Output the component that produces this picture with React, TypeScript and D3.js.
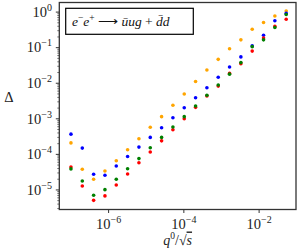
import React, { useEffect, useRef } from 'react';
import * as d3 from 'd3';

// photon energy fraction q0/sqrt(s)
const xValues = [1e-7, 2e-7, 4e-7, 8e-7, 1.6e-6, 3.2e-6, 6.4e-6, 1.28e-5, 2.56e-5, 5.12e-5,
  1.024e-4, 2.048e-4, 4.096e-4, 8.192e-4, 1.6384e-3, 3.2768e-3, 6.5536e-3, 1.31072e-2, 2.62144e-2, 5.24288e-2];

const orangeValues = [2.1e-4, 3.8e-5, 2.0e-5, 3.4e-5, 6.6e-5, 1.35e-4, 2.75e-4, 5.8e-4, 1.15e-3, 2.4e-3,
  5.0e-3, 1.12e-2, 2.35e-2, 4.7e-2, 9.3e-2, 0.166, 0.33, 0.51, 0.78, 1.07];
const blueValues = [3.7e-4, 1.5e-4, 2.75e-5, 2.6e-5, 4.7e-5, 8.7e-5, 1.6e-4, 3.0e-4, 5.6e-4, 1.07e-3,
  2.05e-3, 3.9e-3, 7.5e-3, 1.47e-2, 2.85e-2, 5.5e-2, 0.112, 0.224, 0.57, 0.93];
const redValues = [4.4e-5, 1.29e-5, 5.1e-6, 6.8e-6, 1.38e-5, 2.8e-5, 5.8e-5, 1.17e-4, 2.4e-4, 4.9e-4,
  1.0e-3, 2.1e-3, 4.4e-3, 8.3e-3, 1.9e-2, 3.55e-2, 0.08, 0.186, 0.4, 0.63];
const greenValues = [3.9e-5, 1.78e-5, 7.1e-6, 1.02e-5, 2.0e-5, 3.95e-5, 7.6e-5, 1.54e-4, 3.0e-4, 5.9e-4,
  1.15e-3, 2.3e-3, 4.6e-3, 8.9e-3, 1.8e-2, 3.8e-2, 0.107, 0.166, 0.37, 0.86];

const xTickExps = [-6, -4, -2];
const yTickExps = [0, -1, -2, -3, -4, -5];

const series = [
  { color: 'orange', values: orangeValues },
  { color: 'blue', values: blueValues },
  { color: 'red', values: redValues },
  { color: 'green', values: greenValues },
];

const FONT = "'Liberation Serif', serif";

const App: React.FC = () => {
  const ref = useRef<SVGSVGElement>(null);

  useEffect(() => {
    if (!ref.current) return;
    const svg = d3.select(ref.current);
    svg.selectAll('*').remove();

    const left = 59.3, right = 296, top = 2.5, bottom = 209.5;

    const x = d3.scaleLog().domain([Math.pow(10, -7.31), Math.pow(10, -1.02)]).range([left, right]);
    const y = d3.scaleLog().domain([Math.pow(10, -5.55), Math.pow(10, 0.27)]).range([bottom, top]);

    // y ticks (major + minor)
    const yMinor: number[] = [];
    for (let e = -6; e <= 0; e++) {
      for (let m = 2; m <= 9; m++) {
        const v = m * Math.pow(10, e);
        if (v >= y.domain()[0] && v <= y.domain()[1]) yMinor.push(v);
      }
    }
    const ticks = svg.append('g').attr('stroke', '#333');
    ticks.selectAll('.ymin').data(yMinor).enter().append('line')
      .attr('x1', left - 2).attr('x2', left)
      .attr('y1', d => y(d)).attr('y2', d => y(d))
      .attr('stroke-width', 0.7);
    ticks.selectAll('.ymaj').data(yTickExps).enter().append('line')
      .attr('x1', left - 3.5).attr('x2', left)
      .attr('y1', d => y(Math.pow(10, d))).attr('y2', d => y(Math.pow(10, d)))
      .attr('stroke-width', 1);
    ticks.selectAll('.xmaj').data(xTickExps).enter().append('line')
      .attr('y1', bottom).attr('y2', bottom + 3.5)
      .attr('x1', d => x(Math.pow(10, d))).attr('x2', d => x(Math.pow(10, d)))
      .attr('stroke-width', 1);

    // tick labels
    const yl = svg.append('g').style('font-family', FONT).attr('fill', '#222');
    yTickExps.forEach(e => {
      const t = yl.append('text')
        .attr('x', 52).attr('y', y(Math.pow(10, e)) + 4.8)
        .attr('text-anchor', 'end').attr('font-size', 14.5);
      t.append('tspan').text('10');
      t.append('tspan').attr('dy', -6).attr('font-size', 10).text(e === 0 ? '0' : '\u2212' + (-e));
    });
    xTickExps.forEach(e => {
      const t = yl.append('text')
        .attr('x', x(Math.pow(10, e))).attr('y', 229)
        .attr('text-anchor', 'middle').attr('font-size', 14.5);
      t.append('tspan').text('10');
      t.append('tspan').attr('dy', -6).attr('font-size', 10).text('\u2212' + (-e));
    });

    // axis labels
    svg.append('text').attr('x', 9).attr('y', 101.5).attr('text-anchor', 'middle')
      .style('font-family', FONT).attr('font-size', 14.5).attr('fill', '#222').text('\u0394');
    const xl = svg.append('text').attr('x', (left + right) / 2).attr('y', 244.5)
      .attr('text-anchor', 'middle').style('font-family', FONT).attr('font-size', 14).attr('fill', '#222');
    xl.append('tspan').attr('font-style', 'italic').text('q');
    xl.append('tspan').attr('dy', -5.5).attr('font-size', 9.5).text('0');
    xl.append('tspan').attr('dy', 5.5).text('/\u221A');
    xl.append('tspan').attr('font-style', 'italic').attr('text-decoration', 'overline').text('s');

    // points
    series.forEach(s => {
      svg.append('g').selectAll('circle').data(s.values).enter().append('circle')
        .attr('cx', (_, i) => x(xValues[i]))
        .attr('cy', d => y(d))
        .attr('r', 1.8)
        .attr('fill', s.color);
    });

    // frame
    svg.append('rect').attr('x', left).attr('y', top)
      .attr('width', right - left).attr('height', bottom - top)
      .attr('fill', 'none').attr('stroke', '#333').attr('stroke-width', 1.3);

    // process label box
    svg.append('rect').attr('x', 65.7).attr('y', 8.3).attr('width', 127.6).attr('height', 26)
      .attr('fill', 'white').attr('stroke', 'black').attr('stroke-width', 1.2);
    const lt = svg.append('text').attr('x', 72).attr('y', 26)
      .style('font-family', FONT).attr('font-size', 13.5).attr('fill', '#111');
    lt.append('tspan').attr('font-style', 'italic').text('e');
    lt.append('tspan').attr('dy', -5).attr('font-size', 9.5).text('\u2212');
    lt.append('tspan').attr('dy', 5).attr('font-style', 'italic').text('e');
    lt.append('tspan').attr('dy', -5).attr('font-size', 9.5).text('+');
    lt.append('tspan').attr('dy', 5).text(' \u27F6 ');
    lt.append('tspan').attr('font-style', 'italic').text('u\u0304ug');
    lt.append('tspan').text(' + ');
    lt.append('tspan').attr('font-style', 'italic').text('d\u0304d');
  }, []);

  return (
    <div style={{ position: 'absolute', left: 0, top: 0 }}>
      <svg ref={ref} width={300} height={250} style={{ display: 'block', background: 'white' }} />
    </div>
  );
};

export default App;
